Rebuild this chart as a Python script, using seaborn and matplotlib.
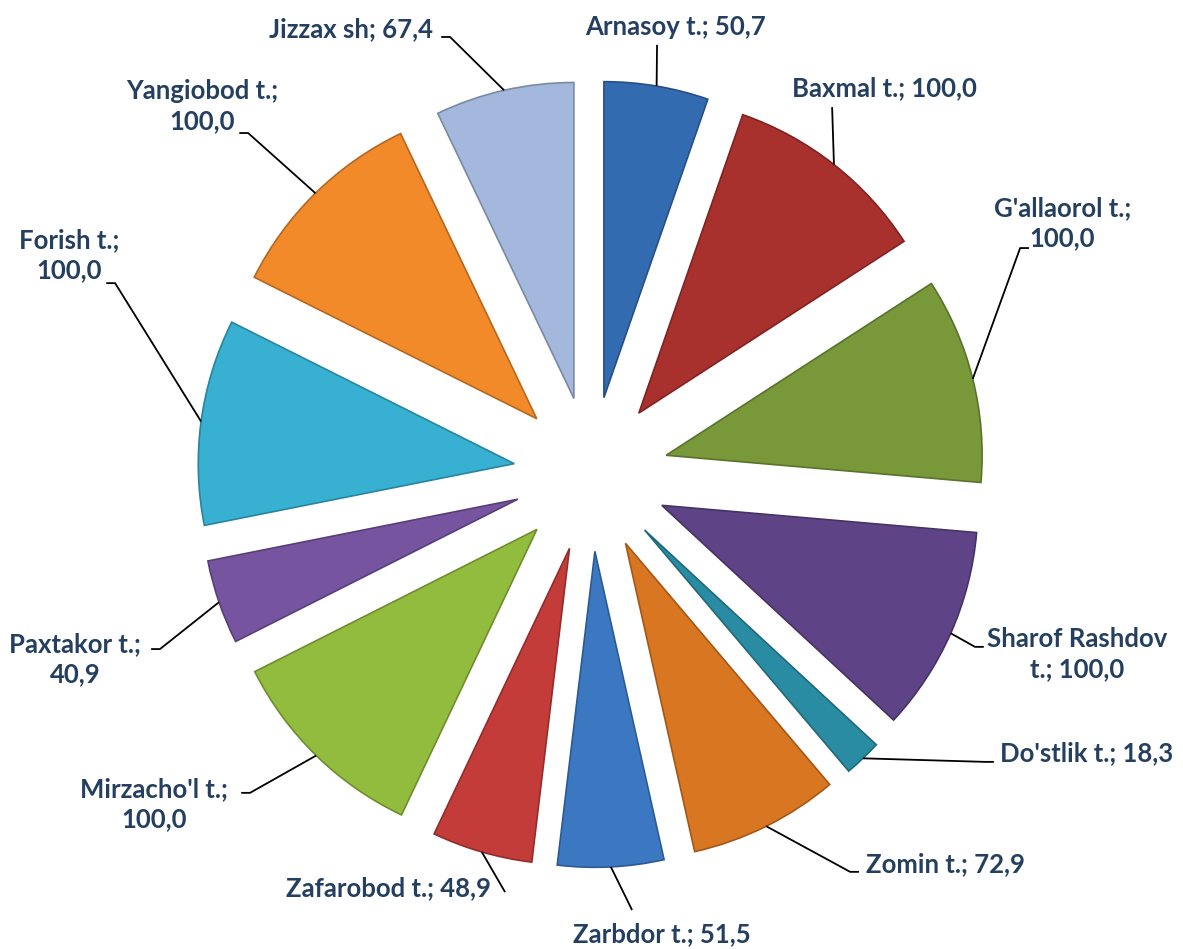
import numpy as np
import seaborn as sns
import matplotlib.pyplot as plt
import matplotlib.colors as mcolors

# data
tumanlar = ["Arnasoy t.", "Baxmal t.", "G'allaorol t.", "Sharof Rashdov t.", "Do'stlik t.",
            "Zomin t.", "Zarbdor t.", "Zafarobod t.", "Mirzacho'l t.", "Paxtakor t.",
            "Forish t.", "Yangiobod t.", "Jizzax sh"]
qiymatlar = [50.7, 100.0, 100.0, 100.0, 18.3, 72.9, 51.5, 48.9, 100.0, 40.9, 100.0, 100.0, 67.4]
yorliqlar = ["Arnasoy t.; 50,7", "Baxmal t.; 100,0", "G'allaorol t.;\n100,0",
             "Sharof Rashdov\nt.; 100,0", "Do'stlik t.; 18,3", "Zomin t.; 72,9",
             "Zarbdor t.; 51,5", "Zafarobod t.; 48,9", "Mirzacho'l t.;\n100,0",
             "Paxtakor t.;\n40,9", "Forish t.;\n100,0", "Yangiobod t.;\n100,0",
             "Jizzax sh; 67,4"]

# layout / style
ranglar = ["#336BB0", "#A8302D", "#78983A", "#5E4487", "#2A8CA2", "#D97622", "#3C78C2",
           "#C43C3A", "#92BC3E", "#7654A0", "#37B0D2", "#F28A2A", "#A3B8DC"]
yorliq_joyi = [(0.266, 1.415), (0.930, 1.222), (1.491, 0.794), (1.538, -0.570),
               (1.570, -0.883), (1.123, -1.234), (0.225, -1.456), (-0.642, -1.310),
               (-1.383, -1.044), (-1.633, -0.585), (-1.652, 0.693), (-1.231, 1.165),
               (-0.759, 1.408)]
# chiziq tugashi (x, y) va gorizontal "dum" yo'nalishi
chiziq_uchi = [(0.209, 1.358), (0.763, 1.161), (1.358, 0.715), (1.215, -0.547),
               (1.247, -0.911), (0.820, -1.259), (0.130, -1.380), (-0.272, -1.323),
               (-1.079, -1.009), (-1.364, -0.554), (-1.506, 0.604), (-1.085, 1.079),
               (-0.446, 1.383)]
dum = [0, 0, 1, 1, 1, 1, 0, 0, -1, -1, -1, -1, -1]
portlash = 0.245

sns.set_theme(style="white")
plt.rcParams['font.family'] = ['Lato', 'DejaVu Sans']

fig = plt.figure(figsize=(11.83, 9.49), dpi=100)
ax = fig.add_axes([0, 0, 1, 1])

chekka = [mcolors.to_hex(np.array(mcolors.to_rgb(c)) * 0.75) for c in ranglar]
wedges, _ = ax.pie(qiymatlar, colors=ranglar, startangle=90, counterclock=False,
                   explode=[portlash] * len(qiymatlar), radius=1,
                   wedgeprops=dict(linewidth=1.2))
for w, e in zip(wedges, chekka):
    w.set_edgecolor(e)

for w, matn, joy, uch, d in zip(wedges, yorliqlar, yorliq_joyi, chiziq_uchi, dum):
    burchak = np.deg2rad((w.theta1 + w.theta2) / 2)
    r = 1 + portlash
    x0, y0 = r * np.cos(burchak), r * np.sin(burchak)
    ux, uy = uch
    xs, ys = [x0, ux], [y0, uy]
    if d != 0:
        xs.append(ux + d * 0.028)
        ys.append(uy)
    ax.plot(xs, ys, color='black', lw=1.3, solid_capstyle='butt')
    ax.text(joy[0], joy[1], matn, ha='center', va='center', fontsize=18.5,
            fontweight='bold', color='#243F60', linespacing=1.3)

ax.set_xlim(-591 / 316, 592 / 316)
ax.set_ylim(-475 / 316, 474 / 316)
ax.set_aspect('equal')
ax.axis('off')

plt.savefig('out.png', dpi=100)
